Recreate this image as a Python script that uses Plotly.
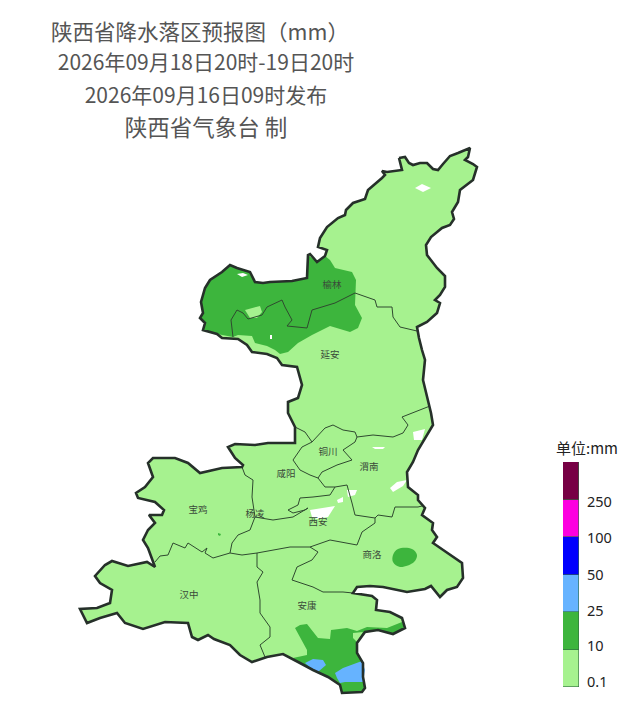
import plotly.graph_objects as go

# title lines: text, centre x, centre y, font size
title_lines = ["陕西省降水落区预报图（mm）", "2026年09月18日20时-19日20时",
               "2026年09月16日09时发布", "陕西省气象台 制"]
title_x = [200, 206, 206, 206]
title_y = [35, 65, 98, 130]
title_size = [21.5, 21, 21, 22.5]

# map is digitised in picture pixels
province = [(399,158),(405,157),(409,163),(413,165),(420,163),(427,163),(433,169),(438,170),(443,164),
            (450,156),(458,153),(470,148),(468,157),(465,160),(473,164),(477,167),(473,180),(460,190),
            (458,202),(452,212),(454,219),(450,225),(442,228),(431,237),(426,245),(427,255),(437,268),
            (445,276),(445,287),(440,295),(435,300),(440,303),(437,313),(427,322),(417,327),(419,338),
            (422,350),(425,360),(423,380),(427,397),(431,413),(433,425),(425,438),(418,450),(413,462),
            (407,472),(408,487),(418,495),(418,500),(425,508),(422,515),(433,523),(432,530),(437,537),
            (433,543),(447,553),(462,563),(463,578),(457,587),(447,590),(440,597),(431,586),(425,589),
            (407,592),(383,587),(370,586),(357,587),(353,593),(372,596),(377,600),(376,610),(390,612),
            (402,618),(405,628),(393,634),(378,630),(365,632),(357,643),(357,653),(363,663),(363,677),
            (365,688),(362,692),(342,693),(340,685),(328,677),(313,670),(300,663),(283,654),(267,657),
            (252,662),(240,655),(230,645),(214,639),(208,635),(198,640),(192,637),(188,623),(165,622),
            (143,629),(125,623),(117,613),(100,618),(87,623),(80,609),(97,608),(110,603),(112,590),
            (100,583),(95,576),(105,565),(112,561),(128,566),(147,562),(155,567),(148,548),(143,540),
            (148,530),(155,523),(149,515),(162,515),(164,510),(155,502),(138,498),(136,493),(145,487),
            (153,477),(148,463),(153,458),(175,458),(188,463),(200,473),(222,468),(242,467),(243,465),
            (235,458),(228,447),(235,444),(255,445),(268,443),(295,443),(295,427),(288,413),(288,402),
            (298,398),(302,385),(297,367),(282,365),(277,358),(267,354),(252,352),(247,345),(238,339),
            (222,338),(217,334),(203,330),(205,323),(200,318),(203,313),(201,302),(205,288),(210,280),
            (222,272),(230,265),(237,268),(250,272),(255,282),(263,283),(270,282),(292,281),(307,278),
            (308,255),(310,254),(317,262),(325,256),(327,250),(318,247),(320,238),(327,227),(338,218),
            (345,215),(346,210),(353,203),(365,199),(368,190),(382,178),(385,175),(382,171),(387,172),
            (402,170),(399,158)]

# rain areas
rain_10_yulin = [(308,255),(317,262),(325,256),(330,260),(335,268),(352,272),(356,280),(355,305),(362,318),
                 (358,328),(350,332),(330,326),(312,335),(298,343),(288,352),(280,354),(275,350),(267,346),
                 (255,343),(252,336),(238,335),(233,337),(217,334),(203,330),(205,323),(200,318),(203,313),
                 (201,302),(205,288),(210,280),(222,272),(230,265),(237,268),(250,272),(255,282),(263,283),
                 (270,282),(292,281),(307,278),(308,255)]
rain_10_shangluo = [(393,555),(398,549),(412,549),(417,555),(414,562),(400,567),(393,562),(393,555)]
rain_10_dot = [(218,533),(221,534),(220,536),(218,535),(218,533)]
rain_10_ankang = [(295,628),(300,625),(307,624),(318,638),(330,639),(331,630),(347,628),(357,631),(367,627),
                  (387,628),(402,622),(405,628),(393,634),(378,630),(365,632),(357,643),(357,653),(363,663),
                  (363,677),(365,688),(362,692),(342,693),(340,685),(328,677),(313,670),(300,663),(293,658),
                  (307,655),(307,650),(300,638),(295,628)]
rain_25_west = [(305,663),(313,659),(323,660),(326,665),(318,672),(313,670),(305,663)]
rain_25_east = [(335,673),(343,668),(362,661),(365,670),(363,682),(357,682),(345,682),(340,683),(337,678),(335,673)]

# gaps inside the rain areas
light_gaps = [[(245,310),(260,306),(262,312),(257,318),(250,318),(245,310)],
              [(353,633),(363,632),(357,642),(353,638),(353,633)]]
dry_areas = [[(237,274),(243,273),(248,275),(242,277),(237,274)],
             [(270,335),(272,335),(272,339),(270,339),(270,335)],
             [(415,188),(422,184),(431,188),(423,192),(415,188)],
             [(413,432),(425,429),(422,440),(414,440),(413,432)],
             [(372,447),(385,447),(383,449),(375,449),(372,447)],
             [(390,488),(397,482),(407,480),(403,486),(393,492),(390,488)],
             [(347,490),(357,490),(355,495),(348,497),(347,490)],
             [(337,500),(343,497),(343,502),(338,503),(337,500)],
             [(310,510),(335,506),(328,517),(317,519),(312,517),(310,510)]]

# city borders
city_borders = [
    [(233,337),(231,320),(237,310),(243,313),(248,319),(262,315),(267,307),(282,300),(285,307),(292,320),
     (287,326),(307,328),(312,310),(335,303),(355,293),(375,300),(377,307),(392,307),(393,317),(400,327),
     (417,331)],
    [(430,406),(413,413),(402,417),(408,425),(403,433),(393,437),(373,435),(357,437)],
    [(357,437),(355,432),(343,430),(333,425),(325,428),(312,442),(302,447),(293,460),(300,470),(310,475),
     (318,478),(322,472),(337,465),(352,460),(343,450),(355,442),(357,437)],
    [(312,442),(305,432),(295,427)],
    [(318,478),(325,487),(335,487),(347,485),(352,503),(355,515),(375,518)],
    [(375,518),(378,515),(392,517),(395,507),(418,507),(422,506)],
    [(335,487),(330,495),(313,497),(300,498),(298,505),(288,510),(293,513),(305,510),(308,508),(293,517),
     (273,520),(255,517)],
    [(242,467),(245,475),(253,480),(252,497),(255,517),(250,530),(238,535),(232,543),(230,553)],
    [(155,562),(160,556),(168,555),(173,543),(185,548),(188,543),(202,552),(207,548),(205,553),(213,558),
     (230,553),(242,555),(257,553)],
    [(257,553),(273,550),(290,547),(310,547),(330,540),(357,545),(362,532),(375,523),(375,518)],
    [(310,547),(318,552),(312,560),(297,567),(292,580),(313,587),(323,592),(343,592),(353,593)],
    [(257,553),(257,567),(263,572),(257,582),(260,600),(260,613),(270,627),(270,637),(260,645),(265,657)],
]

cities = ["榆林", "延安", "铜川", "渭南", "咸阳", "宝鸡", "杨凌", "西安", "商洛", "汉中", "安康"]
city_x = [332, 330, 328, 369, 286, 198, 255, 318, 372, 189, 307]
city_y = [286, 356, 453, 468, 475, 511, 515, 523, 556, 596, 607]

# colour key, bottom to top
key_colors = ["#a6f28f", "#3db53d", "#66b3ff", "#0000fe", "#fd00e0", "#770044"]
key_labels = ["0.1", "10", "25", "50", "100", "250"]
key_ticks = [0.13, 1.09, 2.03, 2.99, 3.97, 4.93]

# the photographed page comes out a little short, so the y axis is stretched to match
page_h = 705


def xs(points):
    return [p[0] for p in points]


def ys(points):
    return [p[1] for p in points]


def add_area(fig, points, color, shape="linear"):
    fig.add_trace(go.Scatter(x=xs(points), y=ys(points), mode="lines", fill="toself", fillcolor=color,
                             line=dict(width=0, color=color, shape=shape), hoverinfo="skip", showlegend=False))


fig = go.Figure()

add_area(fig, province, "#a6f28f")
add_area(fig, rain_10_yulin, "#3db53d")
add_area(fig, rain_10_shangluo, "#3db53d", "spline")
add_area(fig, rain_10_dot, "#3db53d")
add_area(fig, rain_10_ankang, "#3db53d")
for area in [rain_25_west, rain_25_east]:
    add_area(fig, area, "#66b3ff")
for area in light_gaps:
    add_area(fig, area, "#a6f28f")
for area in dry_areas:
    add_area(fig, area, "#ffffff")

for border in city_borders:
    fig.add_trace(go.Scatter(x=xs(border), y=ys(border), mode="lines", hoverinfo="skip", showlegend=False,
                             line=dict(width=1, color="#2f4a2f")))
fig.add_trace(go.Scatter(x=xs(province), y=ys(province), mode="lines", hoverinfo="skip", showlegend=False,
                         line=dict(width=2.6, color="#26302a")))

fig.add_trace(go.Scatter(x=city_x, y=city_y, mode="text", text=cities, hoverinfo="skip", showlegend=False,
                         textfont=dict(family="Noto Sans CJK SC", size=9.5, color="#3a4a3a")))
fig.add_trace(go.Scatter(x=title_x, y=title_y, mode="text", text=title_lines, hoverinfo="skip", showlegend=False,
                         textfont=dict(family="Noto Sans CJK SC", size=title_size, color="#555555")))

# colour key is a stacked bar on its own axes
for i in range(len(key_colors)):
    fig.add_trace(go.Bar(x=[0], y=[1], xaxis="x2", yaxis="y2", width=1, showlegend=False, hoverinfo="skip",
                         marker=dict(color=key_colors[i], line=dict(color="#2f6a3f", width=0.6))))

fig.update_layout(
    width=626, height=709, margin=dict(l=0, r=0, t=0, b=0),
    paper_bgcolor="white", plot_bgcolor="white", barmode="stack", bargap=0,
    xaxis=dict(range=[0, 626], visible=False, domain=[0, 1]),
    yaxis=dict(range=[page_h, 0], visible=False, domain=[0, 1]),
    xaxis2=dict(range=[-0.5, 0.5], visible=False, domain=[563 / 626, 579 / 626], anchor="y2"),
    yaxis2=dict(range=[0, 6], domain=[1 - 687 / page_h, 1 - 462 / page_h], anchor="x2", side="right", showgrid=False,
                zeroline=False, showline=False, tickvals=key_ticks, ticktext=key_labels, ticks="",
                ticklabelstandoff=7, tickfont=dict(family="Noto Sans", size=14.5, color="#222222")),
    annotations=[dict(text="单位:mm", x=587, y=447, xref="x", yref="y", showarrow=False,
                      font=dict(family="Noto Sans CJK SC", size=15, color="#222222"))],
)

fig.write_html("out.html", config={"displayModeBar": False},
               post_script="for (const el of [document.documentElement, document.body]) "
                           "{el.style.margin='0'; el.style.height='709px'; el.style.overflow='hidden';}")
